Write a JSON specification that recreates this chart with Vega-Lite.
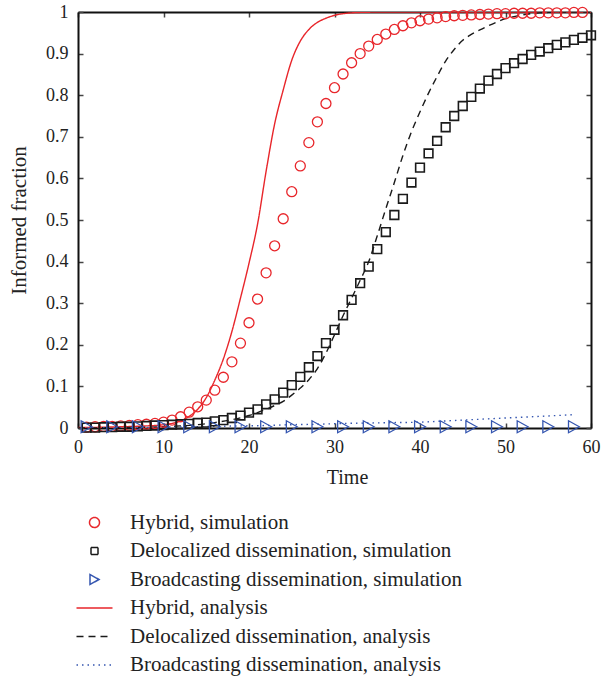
{
  "$schema": "https://vega.github.io/schema/vega-lite/v6.json",
  "width": 513,
  "height": 416,
  "autosize": "none",
  "padding": {"left": 78, "top": 12, "right": 10, "bottom": 250},
  "background": "white",
  "config": {
    "font": "Liberation Serif",
    "view": {"stroke": null},
    "axis": {
      "labelFont": "Liberation Serif",
      "titleFont": "Liberation Serif",
      "labelFontSize": 18,
      "titleFontSize": 20,
      "titleFontWeight": "normal",
      "labelColor": "#222",
      "titleColor": "#222",
      "domainColor": "#111",
      "domainWidth": 2,
      "tickColor": "#444",
      "tickWidth": 1.5,
      "tickSize": -5,
      "labelFlush": false,
      "grid": false
    },
    "legend": {
      "orient": "none",
      "legendX": 6,
      "legendY": 500,
      "direction": "vertical",
      "labelFont": "Liberation Serif",
      "labelFontSize": 21,
      "labelColor": "#222",
      "symbolSize": 100,
      "symbolStrokeWidth": 1.5,
      "rowPadding": 6.5,
      "labelOffset": 25,
      "labelLimit": 500
    }
  },
  "datasets": {
    "sim": [
      {"series": "Hybrid, simulation", "t": 1, "v": 0.002},
      {"series": "Hybrid, simulation", "t": 2, "v": 0.003},
      {"series": "Hybrid, simulation", "t": 3, "v": 0.004},
      {"series": "Hybrid, simulation", "t": 4, "v": 0.004},
      {"series": "Hybrid, simulation", "t": 5, "v": 0.005},
      {"series": "Hybrid, simulation", "t": 6, "v": 0.006},
      {"series": "Hybrid, simulation", "t": 7, "v": 0.008},
      {"series": "Hybrid, simulation", "t": 8, "v": 0.009},
      {"series": "Hybrid, simulation", "t": 9, "v": 0.011},
      {"series": "Hybrid, simulation", "t": 10, "v": 0.014},
      {"series": "Hybrid, simulation", "t": 11, "v": 0.019},
      {"series": "Hybrid, simulation", "t": 12, "v": 0.027},
      {"series": "Hybrid, simulation", "t": 13, "v": 0.038},
      {"series": "Hybrid, simulation", "t": 14, "v": 0.051},
      {"series": "Hybrid, simulation", "t": 15, "v": 0.067},
      {"series": "Hybrid, simulation", "t": 16, "v": 0.091},
      {"series": "Hybrid, simulation", "t": 17, "v": 0.122},
      {"series": "Hybrid, simulation", "t": 18, "v": 0.159},
      {"series": "Hybrid, simulation", "t": 19, "v": 0.204},
      {"series": "Hybrid, simulation", "t": 20, "v": 0.253},
      {"series": "Hybrid, simulation", "t": 21, "v": 0.31},
      {"series": "Hybrid, simulation", "t": 22, "v": 0.373},
      {"series": "Hybrid, simulation", "t": 23, "v": 0.438},
      {"series": "Hybrid, simulation", "t": 24, "v": 0.503},
      {"series": "Hybrid, simulation", "t": 25, "v": 0.568},
      {"series": "Hybrid, simulation", "t": 26, "v": 0.63},
      {"series": "Hybrid, simulation", "t": 27, "v": 0.686},
      {"series": "Hybrid, simulation", "t": 28, "v": 0.736},
      {"series": "Hybrid, simulation", "t": 29, "v": 0.78},
      {"series": "Hybrid, simulation", "t": 30, "v": 0.818},
      {"series": "Hybrid, simulation", "t": 31, "v": 0.851},
      {"series": "Hybrid, simulation", "t": 32, "v": 0.878},
      {"series": "Hybrid, simulation", "t": 33, "v": 0.9},
      {"series": "Hybrid, simulation", "t": 34, "v": 0.918},
      {"series": "Hybrid, simulation", "t": 35, "v": 0.934},
      {"series": "Hybrid, simulation", "t": 36, "v": 0.947},
      {"series": "Hybrid, simulation", "t": 37, "v": 0.958},
      {"series": "Hybrid, simulation", "t": 38, "v": 0.967},
      {"series": "Hybrid, simulation", "t": 39, "v": 0.974},
      {"series": "Hybrid, simulation", "t": 40, "v": 0.979},
      {"series": "Hybrid, simulation", "t": 41, "v": 0.983},
      {"series": "Hybrid, simulation", "t": 42, "v": 0.986},
      {"series": "Hybrid, simulation", "t": 43, "v": 0.989},
      {"series": "Hybrid, simulation", "t": 44, "v": 0.991},
      {"series": "Hybrid, simulation", "t": 45, "v": 0.992},
      {"series": "Hybrid, simulation", "t": 46, "v": 0.993},
      {"series": "Hybrid, simulation", "t": 47, "v": 0.994},
      {"series": "Hybrid, simulation", "t": 48, "v": 0.995},
      {"series": "Hybrid, simulation", "t": 49, "v": 0.996},
      {"series": "Hybrid, simulation", "t": 50, "v": 0.996},
      {"series": "Hybrid, simulation", "t": 51, "v": 0.997},
      {"series": "Hybrid, simulation", "t": 52, "v": 0.997},
      {"series": "Hybrid, simulation", "t": 53, "v": 0.997},
      {"series": "Hybrid, simulation", "t": 54, "v": 0.998},
      {"series": "Hybrid, simulation", "t": 55, "v": 0.998},
      {"series": "Hybrid, simulation", "t": 56, "v": 0.998},
      {"series": "Hybrid, simulation", "t": 57, "v": 0.998},
      {"series": "Hybrid, simulation", "t": 58, "v": 0.999},
      {"series": "Hybrid, simulation", "t": 59, "v": 0.999},
      {"series": "Delocalized dissemination, simulation", "t": 1, "v": 0.001},
      {"series": "Delocalized dissemination, simulation", "t": 2, "v": 0.001},
      {"series": "Delocalized dissemination, simulation", "t": 3, "v": 0.002},
      {"series": "Delocalized dissemination, simulation", "t": 4, "v": 0.002},
      {"series": "Delocalized dissemination, simulation", "t": 5, "v": 0.003},
      {"series": "Delocalized dissemination, simulation", "t": 6, "v": 0.003},
      {"series": "Delocalized dissemination, simulation", "t": 7, "v": 0.004},
      {"series": "Delocalized dissemination, simulation", "t": 8, "v": 0.005},
      {"series": "Delocalized dissemination, simulation", "t": 9, "v": 0.006},
      {"series": "Delocalized dissemination, simulation", "t": 10, "v": 0.007},
      {"series": "Delocalized dissemination, simulation", "t": 11, "v": 0.008},
      {"series": "Delocalized dissemination, simulation", "t": 12, "v": 0.009},
      {"series": "Delocalized dissemination, simulation", "t": 13, "v": 0.01},
      {"series": "Delocalized dissemination, simulation", "t": 14, "v": 0.012},
      {"series": "Delocalized dissemination, simulation", "t": 15, "v": 0.013},
      {"series": "Delocalized dissemination, simulation", "t": 16, "v": 0.016},
      {"series": "Delocalized dissemination, simulation", "t": 17, "v": 0.019},
      {"series": "Delocalized dissemination, simulation", "t": 18, "v": 0.024},
      {"series": "Delocalized dissemination, simulation", "t": 19, "v": 0.03},
      {"series": "Delocalized dissemination, simulation", "t": 20, "v": 0.037},
      {"series": "Delocalized dissemination, simulation", "t": 21, "v": 0.045},
      {"series": "Delocalized dissemination, simulation", "t": 22, "v": 0.057},
      {"series": "Delocalized dissemination, simulation", "t": 23, "v": 0.069},
      {"series": "Delocalized dissemination, simulation", "t": 24, "v": 0.085},
      {"series": "Delocalized dissemination, simulation", "t": 25, "v": 0.103},
      {"series": "Delocalized dissemination, simulation", "t": 26, "v": 0.123},
      {"series": "Delocalized dissemination, simulation", "t": 27, "v": 0.146},
      {"series": "Delocalized dissemination, simulation", "t": 28, "v": 0.173},
      {"series": "Delocalized dissemination, simulation", "t": 29, "v": 0.204},
      {"series": "Delocalized dissemination, simulation", "t": 30, "v": 0.236},
      {"series": "Delocalized dissemination, simulation", "t": 31, "v": 0.271},
      {"series": "Delocalized dissemination, simulation", "t": 32, "v": 0.308},
      {"series": "Delocalized dissemination, simulation", "t": 33, "v": 0.348},
      {"series": "Delocalized dissemination, simulation", "t": 34, "v": 0.388},
      {"series": "Delocalized dissemination, simulation", "t": 35, "v": 0.43},
      {"series": "Delocalized dissemination, simulation", "t": 36, "v": 0.471},
      {"series": "Delocalized dissemination, simulation", "t": 37, "v": 0.512},
      {"series": "Delocalized dissemination, simulation", "t": 38, "v": 0.551},
      {"series": "Delocalized dissemination, simulation", "t": 39, "v": 0.59},
      {"series": "Delocalized dissemination, simulation", "t": 40, "v": 0.626},
      {"series": "Delocalized dissemination, simulation", "t": 41, "v": 0.66},
      {"series": "Delocalized dissemination, simulation", "t": 42, "v": 0.69},
      {"series": "Delocalized dissemination, simulation", "t": 43, "v": 0.723},
      {"series": "Delocalized dissemination, simulation", "t": 44, "v": 0.75},
      {"series": "Delocalized dissemination, simulation", "t": 45, "v": 0.774},
      {"series": "Delocalized dissemination, simulation", "t": 46, "v": 0.796},
      {"series": "Delocalized dissemination, simulation", "t": 47, "v": 0.816},
      {"series": "Delocalized dissemination, simulation", "t": 48, "v": 0.835},
      {"series": "Delocalized dissemination, simulation", "t": 49, "v": 0.851},
      {"series": "Delocalized dissemination, simulation", "t": 50, "v": 0.865},
      {"series": "Delocalized dissemination, simulation", "t": 51, "v": 0.877},
      {"series": "Delocalized dissemination, simulation", "t": 52, "v": 0.887},
      {"series": "Delocalized dissemination, simulation", "t": 53, "v": 0.897},
      {"series": "Delocalized dissemination, simulation", "t": 54, "v": 0.905},
      {"series": "Delocalized dissemination, simulation", "t": 55, "v": 0.913},
      {"series": "Delocalized dissemination, simulation", "t": 56, "v": 0.921},
      {"series": "Delocalized dissemination, simulation", "t": 57, "v": 0.927},
      {"series": "Delocalized dissemination, simulation", "t": 58, "v": 0.933},
      {"series": "Delocalized dissemination, simulation", "t": 59, "v": 0.938},
      {"series": "Delocalized dissemination, simulation", "t": 60, "v": 0.944},
      {"series": "Broadcasting dissemination, simulation", "t": 1, "v": 0.003},
      {"series": "Broadcasting dissemination, simulation", "t": 4, "v": 0.003},
      {"series": "Broadcasting dissemination, simulation", "t": 7, "v": 0.003},
      {"series": "Broadcasting dissemination, simulation", "t": 10, "v": 0.003},
      {"series": "Broadcasting dissemination, simulation", "t": 13, "v": 0.003},
      {"series": "Broadcasting dissemination, simulation", "t": 16, "v": 0.003},
      {"series": "Broadcasting dissemination, simulation", "t": 19, "v": 0.003},
      {"series": "Broadcasting dissemination, simulation", "t": 22, "v": 0.003},
      {"series": "Broadcasting dissemination, simulation", "t": 25, "v": 0.003},
      {"series": "Broadcasting dissemination, simulation", "t": 28, "v": 0.003},
      {"series": "Broadcasting dissemination, simulation", "t": 31, "v": 0.003},
      {"series": "Broadcasting dissemination, simulation", "t": 34, "v": 0.003},
      {"series": "Broadcasting dissemination, simulation", "t": 37, "v": 0.003},
      {"series": "Broadcasting dissemination, simulation", "t": 40, "v": 0.003},
      {"series": "Broadcasting dissemination, simulation", "t": 43, "v": 0.003},
      {"series": "Broadcasting dissemination, simulation", "t": 46, "v": 0.003},
      {"series": "Broadcasting dissemination, simulation", "t": 49, "v": 0.003},
      {"series": "Broadcasting dissemination, simulation", "t": 52, "v": 0.003},
      {"series": "Broadcasting dissemination, simulation", "t": 55, "v": 0.003},
      {"series": "Broadcasting dissemination, simulation", "t": 58, "v": 0.003}
    ],
    "ana": [
      {"series": "Hybrid, analysis", "t": 0, "v": 0.001},
      {"series": "Hybrid, analysis", "t": 2, "v": 0.0015},
      {"series": "Hybrid, analysis", "t": 4, "v": 0.0025},
      {"series": "Hybrid, analysis", "t": 6, "v": 0.0035},
      {"series": "Hybrid, analysis", "t": 8, "v": 0.005},
      {"series": "Hybrid, analysis", "t": 9, "v": 0.006},
      {"series": "Hybrid, analysis", "t": 10, "v": 0.008},
      {"series": "Hybrid, analysis", "t": 11, "v": 0.011},
      {"series": "Hybrid, analysis", "t": 12, "v": 0.017},
      {"series": "Hybrid, analysis", "t": 13, "v": 0.028},
      {"series": "Hybrid, analysis", "t": 14, "v": 0.045},
      {"series": "Hybrid, analysis", "t": 15, "v": 0.073},
      {"series": "Hybrid, analysis", "t": 16, "v": 0.115},
      {"series": "Hybrid, analysis", "t": 17, "v": 0.166},
      {"series": "Hybrid, analysis", "t": 18, "v": 0.232},
      {"series": "Hybrid, analysis", "t": 19, "v": 0.312},
      {"series": "Hybrid, analysis", "t": 20, "v": 0.396},
      {"series": "Hybrid, analysis", "t": 21, "v": 0.49},
      {"series": "Hybrid, analysis", "t": 22, "v": 0.617},
      {"series": "Hybrid, analysis", "t": 23, "v": 0.731},
      {"series": "Hybrid, analysis", "t": 24, "v": 0.8125},
      {"series": "Hybrid, analysis", "t": 25, "v": 0.884},
      {"series": "Hybrid, analysis", "t": 26, "v": 0.93},
      {"series": "Hybrid, analysis", "t": 27, "v": 0.958},
      {"series": "Hybrid, analysis", "t": 28, "v": 0.975},
      {"series": "Hybrid, analysis", "t": 29, "v": 0.985},
      {"series": "Hybrid, analysis", "t": 30, "v": 0.992},
      {"series": "Hybrid, analysis", "t": 31, "v": 0.996},
      {"series": "Hybrid, analysis", "t": 32, "v": 0.998},
      {"series": "Hybrid, analysis", "t": 34, "v": 0.9995},
      {"series": "Hybrid, analysis", "t": 36, "v": 1},
      {"series": "Hybrid, analysis", "t": 60, "v": 1},
      {"series": "Delocalized dissemination, analysis", "t": 0, "v": 0},
      {"series": "Delocalized dissemination, analysis", "t": 5, "v": 0.001},
      {"series": "Delocalized dissemination, analysis", "t": 10, "v": 0.003},
      {"series": "Delocalized dissemination, analysis", "t": 12, "v": 0.005},
      {"series": "Delocalized dissemination, analysis", "t": 14, "v": 0.008},
      {"series": "Delocalized dissemination, analysis", "t": 16, "v": 0.013},
      {"series": "Delocalized dissemination, analysis", "t": 18, "v": 0.02},
      {"series": "Delocalized dissemination, analysis", "t": 20, "v": 0.03},
      {"series": "Delocalized dissemination, analysis", "t": 21, "v": 0.037},
      {"series": "Delocalized dissemination, analysis", "t": 22, "v": 0.045},
      {"series": "Delocalized dissemination, analysis", "t": 23, "v": 0.054},
      {"series": "Delocalized dissemination, analysis", "t": 24, "v": 0.064},
      {"series": "Delocalized dissemination, analysis", "t": 25, "v": 0.079},
      {"series": "Delocalized dissemination, analysis", "t": 26, "v": 0.096},
      {"series": "Delocalized dissemination, analysis", "t": 27, "v": 0.116},
      {"series": "Delocalized dissemination, analysis", "t": 28, "v": 0.143},
      {"series": "Delocalized dissemination, analysis", "t": 29, "v": 0.18},
      {"series": "Delocalized dissemination, analysis", "t": 30, "v": 0.224},
      {"series": "Delocalized dissemination, analysis", "t": 31, "v": 0.27},
      {"series": "Delocalized dissemination, analysis", "t": 32, "v": 0.312},
      {"series": "Delocalized dissemination, analysis", "t": 33, "v": 0.355},
      {"series": "Delocalized dissemination, analysis", "t": 34, "v": 0.4},
      {"series": "Delocalized dissemination, analysis", "t": 35, "v": 0.462},
      {"series": "Delocalized dissemination, analysis", "t": 36, "v": 0.527},
      {"series": "Delocalized dissemination, analysis", "t": 37, "v": 0.59},
      {"series": "Delocalized dissemination, analysis", "t": 38, "v": 0.655},
      {"series": "Delocalized dissemination, analysis", "t": 39, "v": 0.712},
      {"series": "Delocalized dissemination, analysis", "t": 40, "v": 0.76},
      {"series": "Delocalized dissemination, analysis", "t": 41, "v": 0.805},
      {"series": "Delocalized dissemination, analysis", "t": 42, "v": 0.845},
      {"series": "Delocalized dissemination, analysis", "t": 43, "v": 0.882},
      {"series": "Delocalized dissemination, analysis", "t": 44, "v": 0.91},
      {"series": "Delocalized dissemination, analysis", "t": 45, "v": 0.932},
      {"series": "Delocalized dissemination, analysis", "t": 46, "v": 0.946},
      {"series": "Delocalized dissemination, analysis", "t": 47, "v": 0.957},
      {"series": "Delocalized dissemination, analysis", "t": 48, "v": 0.967},
      {"series": "Delocalized dissemination, analysis", "t": 49, "v": 0.976},
      {"series": "Delocalized dissemination, analysis", "t": 50, "v": 0.984},
      {"series": "Delocalized dissemination, analysis", "t": 51, "v": 0.989},
      {"series": "Delocalized dissemination, analysis", "t": 52, "v": 0.993},
      {"series": "Delocalized dissemination, analysis", "t": 53, "v": 0.996},
      {"series": "Delocalized dissemination, analysis", "t": 54, "v": 0.998},
      {"series": "Delocalized dissemination, analysis", "t": 55, "v": 0.999},
      {"series": "Delocalized dissemination, analysis", "t": 56, "v": 1},
      {"series": "Delocalized dissemination, analysis", "t": 60, "v": 1},
      {"series": "Broadcasting dissemination, analysis", "t": 1, "v": 0},
      {"series": "Broadcasting dissemination, analysis", "t": 4, "v": 0.0005},
      {"series": "Broadcasting dissemination, analysis", "t": 7, "v": 0.001},
      {"series": "Broadcasting dissemination, analysis", "t": 10, "v": 0.002},
      {"series": "Broadcasting dissemination, analysis", "t": 13, "v": 0.003},
      {"series": "Broadcasting dissemination, analysis", "t": 16, "v": 0.004},
      {"series": "Broadcasting dissemination, analysis", "t": 19, "v": 0.005},
      {"series": "Broadcasting dissemination, analysis", "t": 22, "v": 0.006},
      {"series": "Broadcasting dissemination, analysis", "t": 25, "v": 0.008},
      {"series": "Broadcasting dissemination, analysis", "t": 28, "v": 0.009},
      {"series": "Broadcasting dissemination, analysis", "t": 31, "v": 0.011},
      {"series": "Broadcasting dissemination, analysis", "t": 34, "v": 0.012},
      {"series": "Broadcasting dissemination, analysis", "t": 37, "v": 0.013},
      {"series": "Broadcasting dissemination, analysis", "t": 40, "v": 0.014},
      {"series": "Broadcasting dissemination, analysis", "t": 43, "v": 0.017},
      {"series": "Broadcasting dissemination, analysis", "t": 46, "v": 0.02},
      {"series": "Broadcasting dissemination, analysis", "t": 49, "v": 0.023},
      {"series": "Broadcasting dissemination, analysis", "t": 52, "v": 0.026},
      {"series": "Broadcasting dissemination, analysis", "t": 55, "v": 0.029},
      {"series": "Broadcasting dissemination, analysis", "t": 58, "v": 0.032}
    ]
  },
  "layer": [
    {
      "data": {"name": "ana"},
      "mark": {"type": "line", "strokeWidth": 1.4, "interpolate": "monotone", "clip": true},
      "encoding": {
        "x": {"field": "t", "type": "quantitative", "scale": {"domain": [0, 60], "nice": false},
              "axis": {"orient": "bottom", "values": [0, 10, 20, 30, 40, 50, 60], "format": "d", "labelPadding": 15.5, "title": "Time", "titlePadding": 11, "titleX": 269}},
        "y": {"field": "v", "type": "quantitative", "scale": {"domain": [0, 1], "nice": false},
              "axis": {"orient": "left", "values": [0, 0.1, 0.2, 0.3, 0.4, 0.5, 0.6, 0.7, 0.8, 0.9, 1], "format": "~g", "labelPadding": 15, "title": "Informed fraction", "titleFontSize": 21, "titlePadding": 16}},
        "color": {"field": "series", "type": "nominal",
                  "scale": {"domain": ["Hybrid, simulation", "Delocalized dissemination, simulation", "Broadcasting dissemination, simulation", "Hybrid, analysis", "Delocalized dissemination, analysis", "Broadcasting dissemination, analysis"],
                            "range": ["#e8262b", "#1a1a1a", "#3556b0", "#e8262b", "#1a1a1a", "#3556b0"]},
                  "legend": {"title": null}},
        "strokeDash": {"field": "series", "type": "nominal",
                  "scale": {"domain": ["Hybrid, simulation", "Delocalized dissemination, simulation", "Broadcasting dissemination, simulation", "Hybrid, analysis", "Delocalized dissemination, analysis", "Broadcasting dissemination, analysis"],
                            "range": [[1, 0], [1, 0], [1, 0], [1, 0], [7, 5], [1.5, 4]]},
                  "legend": {"title": null}}
      }
    },
    {
      "data": {"name": "sim"},
      "transform": [{"filter": "datum.series === 'Hybrid, simulation'"}],
      "mark": {"type": "point", "filled": false, "size": 100, "strokeWidth": 1.3, "opacity": 1},
      "encoding": {
        "x": {"field": "t", "type": "quantitative", "scale": {"domain": [0, 60], "nice": false},
              "axis": {"orient": "top", "values": [0, 10, 20, 30, 40, 50, 60], "labels": false, "title": null}},
        "y": {"field": "v", "type": "quantitative", "scale": {"domain": [0, 1], "nice": false},
              "axis": {"orient": "right", "values": [0, 0.1, 0.2, 0.3, 0.4, 0.5, 0.6, 0.7, 0.8, 0.9, 1], "labels": false, "title": null}},
        "color": {"field": "series", "type": "nominal", "legend": {"title": null}},
        "shape": {"field": "series", "type": "nominal",
                  "scale": {"domain": ["Hybrid, simulation", "Delocalized dissemination, simulation", "Broadcasting dissemination, simulation", "Hybrid, analysis", "Delocalized dissemination, analysis", "Broadcasting dissemination, analysis"],
                            "range": ["circle", "M-0.7,-0.7L0.7,-0.7L0.7,0.7L-0.7,0.7Z", "M0.9,0L-0.9,-1L-0.9,1Z", "M-3.6,0L3.6,0", "M-3.6,0L3.6,0", "M-3.6,0L3.6,0"]},
                  "legend": {"title": null}}
      }
    },
    {
      "data": {"name": "sim"},
      "transform": [{"filter": "datum.series === 'Delocalized dissemination, simulation'"}],
      "mark": {"type": "point", "filled": false, "size": 154, "strokeWidth": 1.6, "opacity": 1},
      "encoding": {
        "x": {"field": "t", "type": "quantitative", "axis": null},
        "y": {"field": "v", "type": "quantitative", "axis": null},
        "color": {"field": "series", "type": "nominal", "legend": {"title": null}},
        "shape": {"field": "series", "type": "nominal", "legend": {"title": null}}
      }
    },
    {
      "data": {"name": "sim"},
      "transform": [{"filter": "datum.series === 'Broadcasting dissemination, simulation'"}],
      "mark": {"type": "point", "filled": false, "size": 144, "strokeWidth": 1.3, "opacity": 1},
      "encoding": {
        "x": {"field": "t", "type": "quantitative", "axis": null},
        "y": {"field": "v", "type": "quantitative", "axis": null},
        "color": {"field": "series", "type": "nominal", "legend": {"title": null}},
        "shape": {"field": "series", "type": "nominal", "legend": {"title": null}}
      }
    }
  ],
  "resolve": {"axis": {"x": "independent", "y": "independent"}}
}
